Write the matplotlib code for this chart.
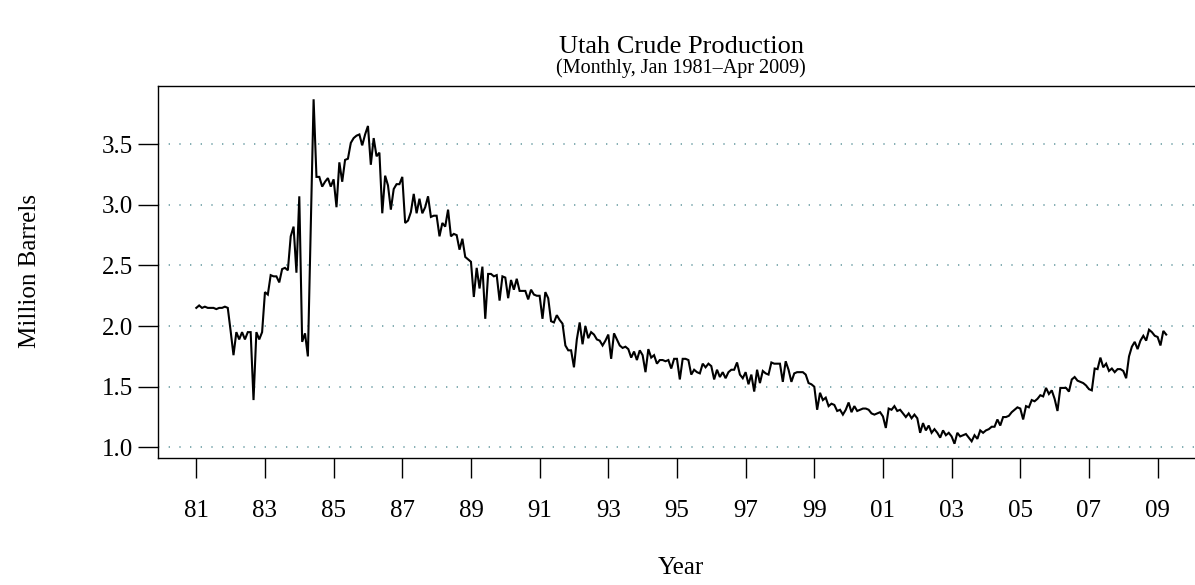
import numpy as np
import matplotlib
matplotlib.use("Agg")
import matplotlib.pyplot as plt

# Monthly Utah crude production (million barrels), Jan 1981 - Apr 2009
p1981 = [2.15, 2.17, 2.15, 2.16, 2.15, 2.15, 2.15, 2.14, 2.15, 2.15, 2.16, 2.15]
p1982 = [1.96, 1.76, 1.95, 1.89, 1.95, 1.89, 1.95, 1.95, 1.39, 1.95, 1.89, 1.95]
p1983 = [2.28, 2.26, 2.42, 2.41, 2.41, 2.36, 2.47, 2.48, 2.46, 2.74, 2.82, 2.44]
p1984 = [3.07, 1.87, 1.94, 1.75, 2.80, 3.87, 3.23, 3.23, 3.15, 3.19, 3.22, 3.15]
p1985 = [3.21, 2.98, 3.35, 3.19, 3.37, 3.38, 3.51, 3.55, 3.57, 3.58, 3.49, 3.58]
p1986 = [3.65, 3.33, 3.55, 3.40, 3.43, 2.93, 3.24, 3.16, 2.96, 3.13, 3.17, 3.17]
p1987 = [3.23, 2.85, 2.87, 2.94, 3.09, 2.93, 3.05, 2.93, 2.98, 3.07, 2.90, 2.91]
p1988 = [2.91, 2.74, 2.85, 2.82, 2.96, 2.74, 2.76, 2.75, 2.63, 2.72, 2.57, 2.55]
p1989 = [2.53, 2.24, 2.48, 2.31, 2.49, 2.06, 2.43, 2.43, 2.41, 2.42, 2.21, 2.41]
p1990 = [2.40, 2.23, 2.38, 2.30, 2.39, 2.29, 2.29, 2.29, 2.22, 2.30, 2.26, 2.25]
p1991 = [2.25, 2.06, 2.28, 2.23, 2.04, 2.03, 2.09, 2.05, 2.02, 1.84, 1.80, 1.80]
p1992 = [1.66, 1.89, 2.03, 1.85, 2.00, 1.90, 1.95, 1.93, 1.89, 1.88, 1.84, 1.88]
p1993 = [1.93, 1.73, 1.94, 1.89, 1.84, 1.82, 1.83, 1.81, 1.74, 1.79, 1.72, 1.80]
p1994 = [1.76, 1.62, 1.81, 1.74, 1.76, 1.69, 1.72, 1.72, 1.71, 1.72, 1.65, 1.73]
p1995 = [1.73, 1.56, 1.73, 1.73, 1.72, 1.60, 1.64, 1.62, 1.61, 1.69, 1.66, 1.69]
p1996 = [1.67, 1.56, 1.64, 1.58, 1.62, 1.57, 1.62, 1.64, 1.64, 1.70, 1.60, 1.57]
p1997 = [1.62, 1.52, 1.60, 1.46, 1.64, 1.53, 1.63, 1.61, 1.60, 1.70, 1.69, 1.69]
p1998 = [1.69, 1.54, 1.71, 1.64, 1.54, 1.61, 1.62, 1.62, 1.62, 1.60, 1.53, 1.52]
p1999 = [1.50, 1.31, 1.45, 1.39, 1.41, 1.34, 1.36, 1.35, 1.30, 1.31, 1.27, 1.31]
p2000 = [1.37, 1.29, 1.34, 1.30, 1.31, 1.32, 1.32, 1.31, 1.28, 1.27, 1.28, 1.29]
p2001 = [1.255, 1.16, 1.32, 1.31, 1.34, 1.30, 1.31, 1.28, 1.25, 1.28, 1.24, 1.27]
p2002 = [1.24, 1.12, 1.20, 1.14, 1.18, 1.12, 1.15, 1.12, 1.08, 1.14, 1.10, 1.12]
p2003 = [1.09, 1.03, 1.12, 1.09, 1.10, 1.11, 1.08, 1.05, 1.10, 1.07, 1.14, 1.12]
p2004 = [1.14, 1.15, 1.17, 1.17, 1.23, 1.18, 1.25, 1.25, 1.26, 1.29, 1.31, 1.33]
p2005 = [1.32, 1.23, 1.34, 1.33, 1.39, 1.38, 1.40, 1.43, 1.42, 1.49, 1.44, 1.47]
p2006 = [1.40, 1.30, 1.49, 1.49, 1.49, 1.46, 1.56, 1.58, 1.55, 1.54, 1.53, 1.51]
p2007 = [1.48, 1.47, 1.65, 1.645, 1.74, 1.66, 1.69, 1.63, 1.65, 1.62, 1.645, 1.645]
p2008 = [1.63, 1.57, 1.75, 1.83, 1.87, 1.81, 1.88, 1.92, 1.88, 1.97, 1.95, 1.92]
p2009 = [1.91, 1.84, 1.96, 1.93]

start_year = 1981
x_tick_years = list(range(1981, 2010, 2))
x_tick_labels = ["81", "83", "85", "87", "89", "91", "93", "95", "97", "99",
                 "01", "03", "05", "07", "09"]
y_ticks = [1.0, 1.5, 2.0, 2.5, 3.0, 3.5]
y_tick_labels = ["1.0", "1.5", "2.0", "2.5", "3.0", "3.5"]

title = "Utah Crude Production"
subtitle = "(Monthly, Jan 1981\u2013Apr 2009)"
xlabel = "Year"
ylabel = "Million Barrels"

values = np.array(p1981 + p1982 + p1983 + p1984 + p1985 + p1986 + p1987 + p1988 +
                  p1989 + p1990 + p1991 + p1992 + p1993 + p1994 + p1995 + p1996 +
                  p1997 + p1998 + p1999 + p2000 + p2001 + p2002 + p2003 + p2004 +
                  p2005 + p2006 + p2007 + p2008 + p2009)
t = start_year + np.arange(len(values)) / 12.0

plt.rcParams['font.family'] = ['Liberation Serif', 'DejaVu Serif']

W, H = 1195, 585
fig = plt.figure(figsize=(W / 100, H / 100), dpi=100)
left_px, right_px, top_px, bottom_px = 157.5, 1205.0, 85.5, 457.5
ax = fig.add_axes([left_px / W, 1 - bottom_px / H,
                   (right_px - left_px) / W, (bottom_px - top_px) / H])

# R-style 4% range extension
xr = t.max() - t.min()
yr = values.max() - values.min()
ax.set_xlim(t.min() - 0.04 * xr, t.max() + 0.04 * xr)
ax.set_ylim(values.min() - 0.04 * yr, values.max() + 0.04 * yr)

for yv in y_ticks:
    ax.axhline(yv, color="#6fa0a6", lw=1.2, linestyle=(0, (0.8, 5.6)), zorder=1)

ax.plot(t, values, color="black", lw=1.5, zorder=3, solid_joinstyle="miter")

ax.set_xticks(x_tick_years)
ax.set_xticklabels(x_tick_labels)
ax.set_yticks(y_ticks)
ax.set_yticklabels(y_tick_labels)
ax.tick_params(axis="both", direction="out", length=14.5, width=1.0,
               labelsize=18, color="black")
ax.tick_params(axis="x", pad=16)
ax.tick_params(axis="y", pad=3)
for s in ax.spines.values():
    s.set_linewidth(1.0)
    s.set_color("black")

cx = (left_px + right_px) / 2 / W
fig.text(cx, 1 - 47 / H, title, ha="center", va="center", fontsize=19)
fig.text(cx, 1 - 68 / H, subtitle, ha="center", va="center", fontsize=14.5)
fig.text(cx, 1 - 568 / H, xlabel, ha="center", va="center", fontsize=18)
fig.text(30 / W, 1 - 271 / H, ylabel, ha="center", va="center",
         rotation=90, fontsize=18)

fig.savefig("out.png", dpi=100)
